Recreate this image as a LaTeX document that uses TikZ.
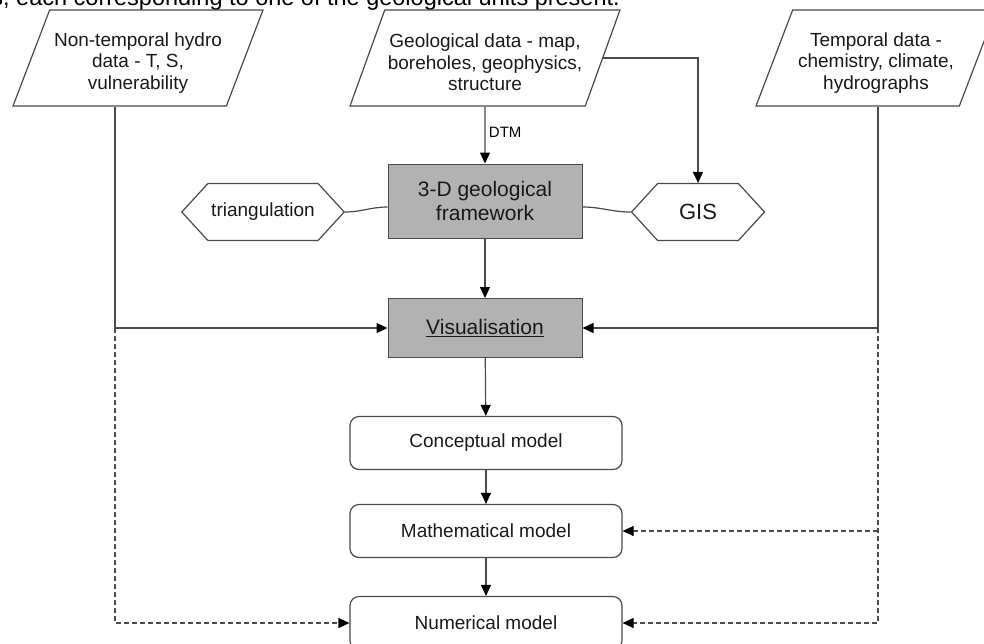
\documentclass[tikz,border=0pt]{standalone}
\usepackage{fontspec}
\setmainfont{Liberation Sans}
\usetikzlibrary{arrows.meta, positioning, shapes.geometric, shapes.symbols}
\definecolor{lncol}{HTML}{4A4A4A}
\definecolor{boxfill}{HTML}{B2B2B2}
\newcommand{\tgap}{\rule{0pt}{23pt}}
\tikzset{
  txt/.style={font=\fontsize{19}{21.5}\selectfont, align=center, text=black!90},
  din/.style={txt, draw=lncol, line width=1.2pt,
              trapezium, trapezium left angle=63, trapezium right angle=117,
              trapezium stretches body, minimum height=96pt, inner sep=1pt},
  gb/.style={txt, font=\fontsize{21}{23.5}\selectfont, draw=lncol, fill=boxfill,
             line width=1pt, minimum width=194pt},
  rb/.style={txt, draw=lncol, line width=1.2pt, rounded corners=9pt,
             minimum width=272pt, minimum height=53pt},
  hx/.style={txt, draw=lncol, line width=1.2pt, signal, signal to=east and west,
             signal pointer angle=95, minimum height=57pt},
  lk/.style={lncol, line width=1.2pt},
  fl/.style={lk, -{Triangle[length=11pt, width=10pt, color=black]}},
  dfl/.style={fl, dash pattern=on 5pt off 3pt},
}

\begin{document}
\begin{tikzpicture}[x=1pt, y=-1pt]
    \useasboundingbox (0,0) rectangle (984,643);
    \clip (0,0) rectangle (984,643);
    % cut-off line of the page text above
    \node[font=\fontsize{23.5}{26}\selectfont, anchor=base east, inner sep=0] (cap) at (620,5)
      {s, each corresponding to one of the geological units present.};
    % data sources
    \node[din, minimum width=250pt] (nt) at (138,58) {\tgap Non-temporal hydro\\data - T, S,\\vulnerability};
    \node[din, minimum width=270pt] (geo) at (485,58) {\tgap Geological data - map,\\boreholes, geophysics,\\structure};
    \node[din, minimum width=240pt] (tmp) at (876,58) {\tgap Temporal data -\\chemistry, climate,\\hydrographs};
    % framework and tools
    \node[gb, minimum height=74pt] (fw) at (485,201) {3-D geological\\framework};
    \node[hx, minimum width=153pt] (tri) at (263,212) {triangulation};
    \node[hx, minimum width=133pt, font=\fontsize{22}{24}\selectfont] (gis) at (698,212) {GIS};
    \node[gb, minimum height=59pt] (vis) at (485,328) {\underline{Visualisation}};
    % models
    \node[rb] (cm) at (486,443) {Conceptual model};
    \node[rb] (mm) at (486,531) {Mathematical model};
    \node[rb] (nm) at (486,623) {Numerical model};
    \coordinate (jl) at (115,328);
    \coordinate (jr) at (878,328);

    \draw[fl] (geo) -- node[right, text=black, font=\fontsize{15}{17}\selectfont, pos=0.45] (dtm) {DTM} (fw);
    \draw[fl] (geo.east) -| (gis.north);
    \draw[lk] (tri.east) to[out=0, in=180] ([yshift=-6pt]fw.west);
    \draw[lk] ([yshift=-6pt]fw.east) to[out=0, in=180] (gis.west);
    \draw[fl] (fw) -- (vis);
    \draw[lk] (nt.south -| jl) -- (jl);
    \draw[fl] (jl) -- (vis.west);
    \draw[lk] (tmp.south -| jr) -- (jr);
    \draw[fl] (jr) -- (vis.east);
    \draw[fl] (vis) -- (cm);
    \draw[fl] (cm) -- (mm);
    \draw[fl] (mm) -- (nm);
    \draw[dfl] (jl) |- (nm.west);
    \draw[dfl] (jr) |- (nm.east);
    \draw[dfl] (mm.east -| jr) -- (mm.east);
\end{tikzpicture}
\end{document}
